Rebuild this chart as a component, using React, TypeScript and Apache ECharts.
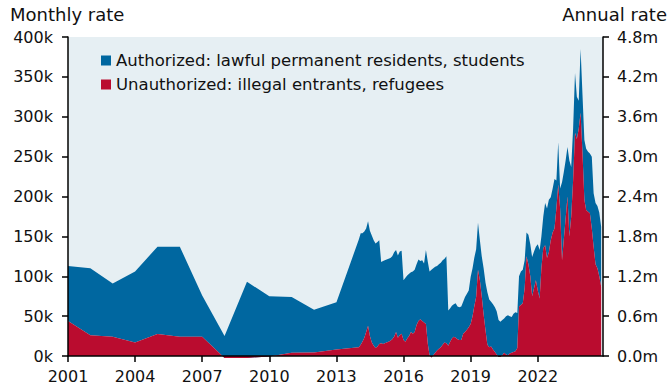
import React, { useEffect, useRef } from "react";
import * as echarts from "echarts";

// Values in thousands per month
const annualYears = [2001, 2002, 2003, 2004, 2005, 2006, 2007, 2008, 2009, 2010, 2011, 2012, 2013];
const annualUnauthorized = [44, 26, 24, 17, 27.5, 24, 24, -2.5, -2.5, -0.5, 4, 4.5, 8];
const annualAuthorized = [69, 84, 67, 89, 109.5, 113, 52, 27.5, 95.5, 75.5, 70, 53.5, 59.5];

// Monthly values from Jan 2014 to Nov 2024
const monthlyStartYear = 2014;
const monthlyUnauthorized = [
  11, 14, 18, 23, 30, 38, 25, 17, 13, 10, 12, 15,
  16, 15, 16, 17, 18, 19, 21, 24, 30, 23, 26, 28,
  20, 18, 22, 25, 30, 28, 30, 39, 44, 46, 44, 42,
  40, 15, 1, -2, 1, 4, 7, 9, 11, 14, 17, 16,
  13, 18, 22, 24, 23, 21, 20, 20, 28, 30, 33, 36,
  40, 50, 62, 74, 108, 95, 75, 52, 32, 14, 11, 12,
  8, 5, 2, -1, -1, 1, 4, 2, 1, 3, 4, 5,
  6, 10, 62, 64, 66, 85, 125, 115, 100, 75, 85, 95,
  82, 72, 110, 135, 139, 123, 130, 145, 155, 160, 185, 215,
  185, 120, 145, 172, 200, 150, 175, 220, 280, 272, 285, 305,
  255, 196, 183, 181, 179, 160, 137, 115, 110, 100, 87,
];
const monthlyAuthorized = [
  135, 140, 136, 133, 130, 131, 132, 134, 132, 131, 131, 130,
  102, 104, 104, 104, 104, 104, 104, 106, 103, 103, 105, 104,
  75, 80, 79, 78, 75, 78, 78, 76, 77, 73, 76, 74,
  93, 103, 105, 110, 109, 108, 106, 106, 106, 106, 105, 109,
  44, 42, 41, 41, 43, 41, 41, 42, 40, 44, 45, 46,
  59, 60, 61, 60, 59, 50, 50, 58, 60, 66, 60, 56,
  57, 56, 54, 46, 44, 44, 43, 48, 50, 47, 45, 48,
  49, 44, 38, 42, 42, 35, 30, 37, 40, 49, 46, 42,
  58, 61, 40, 40, 53, 62, 66, 54, 55, 62, 35, 53,
  25, 98, 85, 73, 62, 95, 62, 65, 75, 53, 35, 80,
  73, 75, 77, 75, 75, 90, 67, 77, 78, 80, 75,
];

const seriesNames = [
  "Authorized: lawful permanent residents, students",
  "Unauthorized: illegal entrants, refugees",
];
const leftTitle = "Monthly rate";
const rightTitle = "Annual rate";

const BLUE = "#0067A0";
const RED = "#BA0C2F";
const BG = "#E6EFF3";
const FONT = "DejaVu Sans";

const X_MIN_YEAR = 2001;
const X_MAX_YEAR = 2024 + 11 / 12;

export default function App() {
  const ref = useRef<HTMLDivElement>(null);
  useEffect(() => {
    if (!ref.current) return;
    const chart = echarts.init(ref.current, undefined, { renderer: "svg" });
    const annualT = annualYears.map((y) => Date.UTC(y, 0, 1));
    const monthlyT = monthlyAuthorized.map((_, i) => Date.UTC(monthlyStartYear, i, 1));
    const ts = [...annualT, ...monthlyT];
    const auth = [...annualAuthorized, ...monthlyAuthorized];
    const unauth = [...annualUnauthorized, ...monthlyUnauthorized];
    const authData = ts.map((t, i) => [t, auth[i]]);
    const unauthData = ts.map((t, i) => [t, unauth[i]]);

    chart.setOption({
      animation: false,
      textStyle: { fontFamily: FONT },
      grid: {
        left: 68,
        right: 65,
        top: 37,
        bottom: 36,
        show: true,
        backgroundColor: BG,
        borderWidth: 0,
        containLabel: false,
        outerBoundsMode: "none",
      },
      legend: {
        orient: "vertical",
        left: 101,
        top: 52,
        padding: 0,
        itemWidth: 10,
        itemHeight: 10,
        itemGap: 7,
        icon: "rect",
        selectedMode: false,
        data: seriesNames,
        textStyle: { fontSize: 16.5, color: "#111", fontFamily: FONT, lineHeight: 17 },
      },
      xAxis: [
        {
          type: "value",
          min: X_MIN_YEAR,
          max: X_MAX_YEAR,
          interval: 3,
          splitLine: { show: false },
          axisLine: { show: true, onZero: false, lineStyle: { color: "#000", width: 1.5 } },
          axisTick: { show: true, length: 6, lineStyle: { color: "#000", width: 1.5 } },
          axisLabel: {
            showMaxLabel: false,
            margin: 12,
            fontSize: 16,
            color: "#111",
            fontFamily: FONT,
            formatter: (v: number) => ((v - 2001) % 3 === 0 ? String(v) : ""),
          },
          z: 10,
        },
        {
          type: "time",
          show: false,
          min: Date.UTC(X_MIN_YEAR, 0, 1),
          max: Date.UTC(2024, 11, 1),
        },
      ],
      yAxis: [
        {
          type: "value",
          min: 0,
          max: 400,
          interval: 50,
          position: "left",
          splitLine: { show: false },
          axisLine: { show: true, lineStyle: { color: "#000", width: 1.5 } },
          axisTick: { show: true, length: 6, lineStyle: { color: "#000", width: 1.5 } },
          axisLabel: {
            margin: 15,
            fontSize: 16,
            color: "#111",
            fontFamily: FONT,
            formatter: (v: number) => `${v}k`,
          },
          z: 10,
        },
        {
          type: "value",
          min: 0,
          max: 4.8,
          interval: 0.6,
          position: "right",
          splitLine: { show: false },
          axisLine: { show: true, lineStyle: { color: "#000", width: 1.5 } },
          axisTick: { show: true, length: 6, lineStyle: { color: "#000", width: 1.5 } },
          axisLabel: {
            margin: 14,
            fontSize: 16,
            color: "#111",
            fontFamily: FONT,
            formatter: (v: number) => `${v.toFixed(1)}m`,
          },
          z: 10,
        },
      ],
      series: [
        {
          name: seriesNames[1],
          type: "line",
          stack: "total",
          stackStrategy: "all",
          data: unauthData,
          xAxisIndex: 1,
          yAxisIndex: 0,
          symbol: "none",
          showSymbol: false,
          clip: false,
          color: RED,
          z: 3,
          lineStyle: { width: 0 },
          areaStyle: { color: RED, opacity: 1 },
        },
        {
          name: seriesNames[0],
          type: "line",
          stack: "total",
          stackStrategy: "all",
          data: authData,
          xAxisIndex: 1,
          yAxisIndex: 0,
          symbol: "none",
          showSymbol: false,
          clip: false,
          color: BLUE,
          z: 2,
          lineStyle: { width: 0 },
          areaStyle: { color: BLUE, opacity: 1 },
        },
      ],
      graphic: [
        {
          type: "text",
          left: 10,
          top: 5,
          style: { text: leftTitle, fontSize: 18, fontFamily: FONT, fill: "#111" },
        },
        {
          type: "text",
          right: 1,
          top: 5,
          style: { text: rightTitle, fontSize: 18, fontFamily: FONT, fill: "#111" },
        },
      ],
    });
    return () => chart.dispose();
  }, []);
  return (
    <div
      ref={ref}
      style={{ position: "fixed", left: 0, top: 0, width: 668, height: 392, background: "#fff" }}
    />
  );
}
